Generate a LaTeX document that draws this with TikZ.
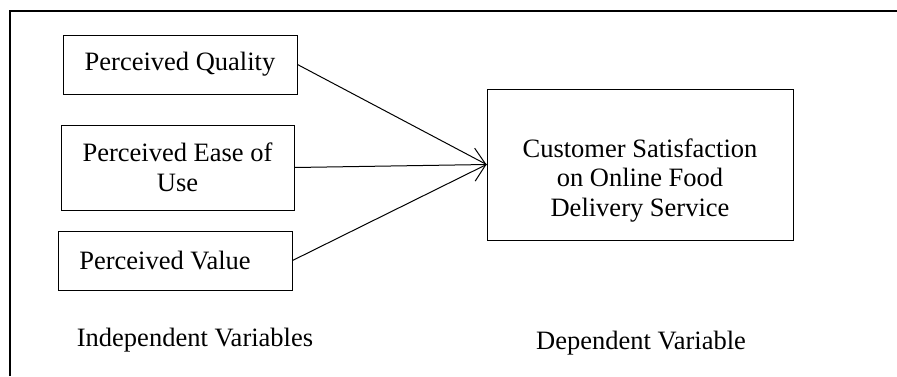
\documentclass[tikz,border=0pt]{standalone}
\usepackage{fontspec}
\setmainfont{Liberation Serif}
\usetikzlibrary{arrows.meta}

\begin{document}
\begin{tikzpicture}[x=1pt, y=-1pt,
  every node/.style={font=\fontsize{26.5}{30.5}\selectfont},
  varbox/.style={draw, line width=1pt, inner sep=0pt, align=center},
  link/.style={line width=1pt},
  arrowlink/.style={link, -{Straight Barb[length=11pt, width=33pt, line width=1pt]}}]

  % page area and partial frame
  \useasboundingbox (0,0) rectangle (897,376);
  \draw[line width=2.5pt] (10,376) -- (10,11) -- (897,11);

  % independent variables
  \node[varbox, minimum width=234pt, minimum height=59pt] (quality) at (180,64.5) {Perceived Quality};
  \node[varbox, minimum width=233pt, minimum height=85pt] (ease) at (177.5,167.5) {Perceived Ease of\\Use};
  \node[varbox, minimum width=234pt, minimum height=59pt] (value) at (175,260.5) {Perceived Value\hspace*{20pt}};

  % dependent variable: frame, with its text set a little below the middle
  \node[varbox, minimum width=306pt, minimum height=151pt] (satisfaction) at (640,164.5) {};
  \node[align=center, inner sep=0pt, font=\fontsize{26.5}{29.5}\selectfont] (satisfactiontext)
    at ([yshift=-16pt]satisfaction.center) {Customer Satisfaction\\on Online Food\\Delivery Service};

  % connectors
  \draw[link] (quality.east) -- (satisfaction.west);
  \draw[link] (value.east) -- (satisfaction.west);
  \draw[arrowlink] (ease.east) -- (satisfaction.west);

  % captions
  \node[anchor=base, inner sep=0pt] (indep) at (195,346) {Independent Variables};
  \node[anchor=base, inner sep=0pt] (dep) at (641,349) {Dependent Variable};
\end{tikzpicture}
\end{document}
